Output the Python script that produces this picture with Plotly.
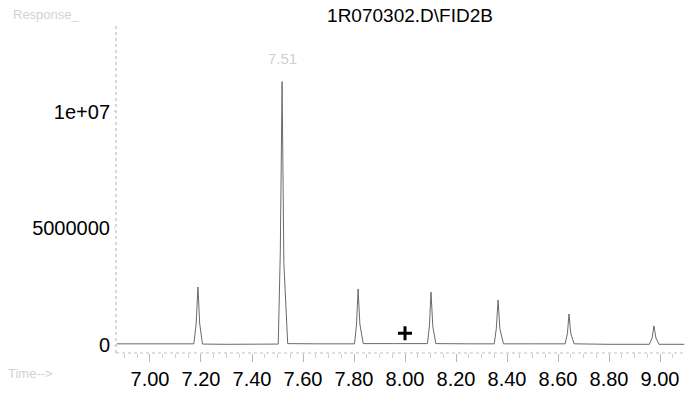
import plotly.graph_objects as go

# ---- data (time in minutes, response in counts) ----
time_min = [
    6.870, 7.000, 7.100, 7.172, 7.181, 7.188, 7.195, 7.206,
    7.300, 7.400, 7.503, 7.511, 7.518, 7.525, 7.540,
    7.650, 7.802, 7.810, 7.816, 7.823, 7.836,
    7.950, 8.088, 8.096, 8.102, 8.109, 8.121,
    8.250, 8.350, 8.358, 8.365, 8.372, 8.386,
    8.500, 8.628, 8.637, 8.643, 8.650, 8.663,
    8.800, 8.958, 8.969, 8.976, 8.984, 8.996, 9.095,
]
response = [
    50000, 50000, 50000, 50000, 900000, 2490000, 900000, 40000,
    30000, 30000, 40000, 4000000, 11300000, 3500000, 60000,
    50000, 50000, 900000, 2400000, 900000, 60000,
    60000, 60000, 850000, 2270000, 800000, 60000,
    50000, 50000, 700000, 1930000, 700000, 50000,
    50000, 50000, 500000, 1330000, 500000, 50000,
    30000, 30000, 300000, 820000, 300000, 30000, 30000,
]

marker_time = [8.00]
marker_resp = [500000]

x_ticks = [7.0, 7.2, 7.4, 7.6, 7.8, 8.0, 8.2, 8.4, 8.6, 8.8, 9.0]
x_tick_text = ["7.00", "7.20", "7.40", "7.60", "7.80", "8.00", "8.20", "8.40", "8.60", "8.80", "9.00"]
y_ticks = [0, 5000000, 10000000]
y_tick_text = ["0", "5000000", "1e+07"]

title_text = "1R070302.D\\FID2B"
peak_label = "7.51"
peak_label_time = 7.518
peak_label_resp = 12300000

FONT = "Liberation Sans, Arial, sans-serif"

fig = go.Figure()
fig.add_trace(go.Scatter(
    x=time_min, y=response, mode="lines",
    line=dict(color="#6a6a6a", width=1),
    hoverinfo="skip", showlegend=False,
))
fig.add_trace(go.Scatter(
    x=marker_time, y=marker_resp, mode="markers",
    marker=dict(symbol="cross-thin", size=10, line=dict(color="black", width=3)),
    showlegend=False,
))

fig.update_layout(
    width=687, height=398,
    margin=dict(l=116, r=2, t=25, b=45),
    paper_bgcolor="white", plot_bgcolor="white",
    font=dict(family=FONT, color="black", size=20),
    title=dict(text=title_text, x=410 / 687, xref="container", xanchor="center",
               y=1 - 15 / 398, yref="container", yanchor="middle",
               font=dict(size=19, family=FONT, color="black")),
    showlegend=False,
)
fig.update_xaxes(
    range=[6.8667, 9.098], tickvals=x_ticks, ticktext=x_tick_text,
    showgrid=False, zeroline=False, showline=False,
    ticks="outside", ticklen=8, tickcolor="#b8b8b8", tickwidth=1,
    minor=dict(ticks="outside", ticklen=4, tickcolor="#cfcfcf", dtick=0.05),
    tickfont=dict(size=20, family=FONT),
)
fig.update_yaxes(
    range=[-343000, 13730000], tickvals=y_ticks, ticktext=y_tick_text,
    showgrid=False, zeroline=False, showline=False,
    ticks="outside", ticklen=1, tickcolor="#cccccc",
    tickfont=dict(size=20, family=FONT),
)

# axis lines (dotted, faint like the scanned original)
fig.add_shape(type="line", xref="paper", yref="paper", x0=0, x1=0, y0=0, y1=1,
              line=dict(color="#b0b0b0", width=1, dash="dot"))
fig.add_shape(type="line", xref="paper", yref="paper", x0=0, x1=1, y0=0, y1=0,
              line=dict(color="#c0c0c0", width=1, dash="dot"))

# faint scanned labels
fig.add_annotation(text="Response_", xref="paper", yref="paper",
                   x=-105 / 571, y=1 + 10 / 328, xanchor="left", yanchor="middle",
                   showarrow=False, font=dict(size=13, color="#d2d2d2", family=FONT))
fig.add_annotation(text="Time-->", xref="paper", yref="paper",
                   x=-110 / 571, y=-20 / 328, xanchor="left", yanchor="middle",
                   showarrow=False, font=dict(size=13, color="#d2d2d2", family=FONT))
fig.add_annotation(text=peak_label, x=peak_label_time, y=peak_label_resp,
                   xanchor="center", yanchor="middle", showarrow=False,
                   font=dict(size=15, color="#cfcfcf", family=FONT))

fig.write_html("out.html")
